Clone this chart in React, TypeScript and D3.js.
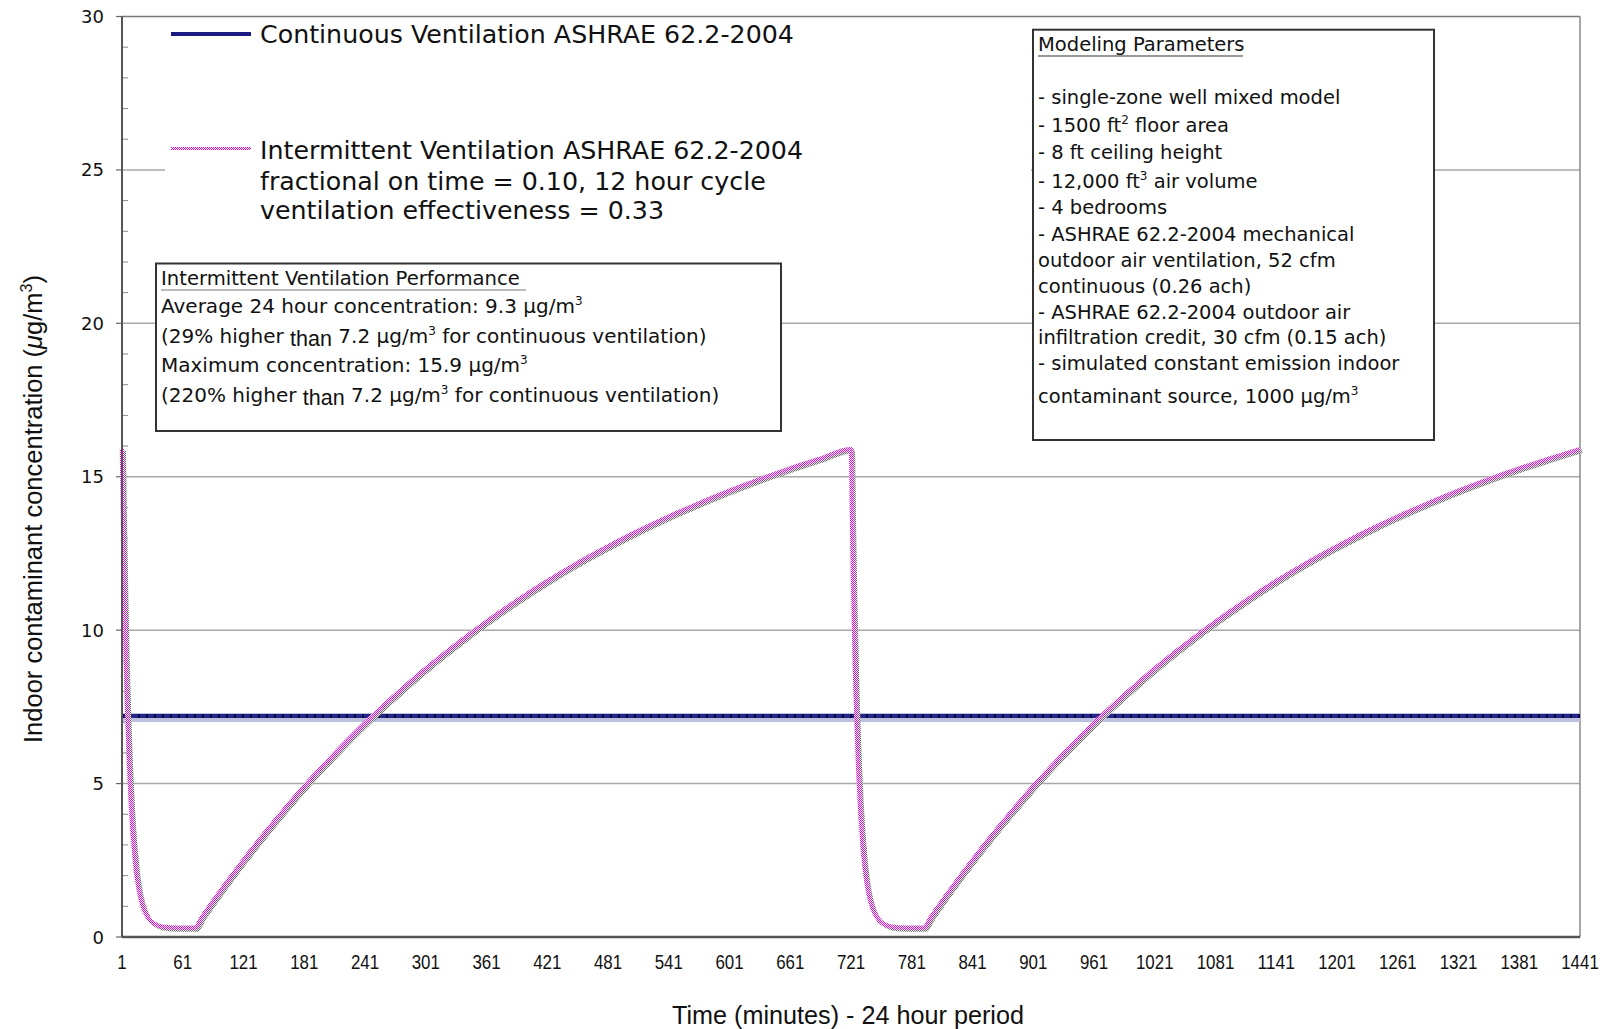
import React from "react";
import * as d3 from "d3";

// ---------- DATA ----------
const yTickValues = [0, 5, 10, 15, 20, 25, 30];
const xTickLabels = [1, 61, 121, 181, 241, 301, 361, 421, 481, 541, 601, 661, 721, 781, 841, 901, 961, 1021, 1081, 1141, 1201, 1261, 1321, 1381, 1441];

const continuousMinutes = [1, 1441];
const continuousValues = [7.2, 7.2];

const intermittentMinutes = [
  1, 2, 3, 4, 5, 6, 8, 10, 12, 15, 18, 22, 26, 30, 35, 40, 50, 60, 73,
  80, 90, 100, 120, 140, 160, 180, 200, 220, 240, 260, 280, 300, 330, 360, 390, 420, 450, 480, 510, 540, 570, 600, 630, 660, 690, 720,
  721, 722, 723, 724, 725, 726, 728, 730, 732, 735, 738, 742, 746, 750, 755, 760, 770, 780, 793,
  800, 810, 820, 840, 860, 880, 900, 920, 940, 960, 980, 1000, 1020, 1050, 1080, 1110, 1140, 1170, 1200, 1230, 1260, 1290, 1320, 1350, 1380, 1410, 1441,
];
const intermittentValues = [
  15.9, 13.67, 11.75, 10.12, 8.71, 7.52, 5.61, 4.21, 3.18, 2.12, 1.46, 0.95, 0.67, 0.5, 0.4, 0.34, 0.31, 0.3, 0.3,
  0.65, 1.12, 1.58, 2.46, 3.3, 4.1, 4.87, 5.59, 6.28, 6.94, 7.56, 8.15, 8.72, 9.51, 10.25, 10.94, 11.58, 12.17, 12.71, 13.22, 13.69, 14.12, 14.53, 14.91, 15.26, 15.58, 15.9,
  15.9, 13.67, 11.75, 10.12, 8.71, 7.52, 5.61, 4.21, 3.18, 2.12, 1.46, 0.95, 0.67, 0.5, 0.4, 0.34, 0.31, 0.3, 0.3,
  0.65, 1.12, 1.58, 2.46, 3.3, 4.1, 4.87, 5.59, 6.28, 6.94, 7.56, 8.15, 8.72, 9.51, 10.25, 10.94, 11.58, 12.17, 12.71, 13.22, 13.69, 14.12, 14.53, 14.91, 15.26, 15.58, 15.9,
];

const seriesNames = ["Continuous Ventilation ASHRAE 62.2-2004", "Intermittent Ventilation ASHRAE 62.2-2004"];
const intermittentNotes = ["fractional on time = 0.10, 12 hour cycle", "ventilation effectiveness = 0.33"];

const xAxisTitle = "Time (minutes) - 24 hour period";
const yAxisTitle = "Indoor contaminant concentration (";

// ---------- LAYOUT ----------
const W = 1608;
const H = 1029;
const PL = 122, PR = 1580, PT = 16.5, PB = 937;

export default function App() {
  const x = d3.scaleLinear().domain([1, 1441]).range([PL, PR]);
  const y = d3.scaleLinear().domain([0, 30]).range([PB, PT]);

  const line = d3
    .line<number>()
    .x((_, i) => x(intermittentMinutes[i]))
    .y((d) => y(d))
    .curve(d3.curveMonotoneX);
  const interPath = line(intermittentValues) || "";

  const contLine = d3
    .line<number>()
    .x((_, i) => x(continuousMinutes[i]))
    .y((d) => y(d));
  const contPath = contLine(continuousValues) || "";

  const minorTicks = d3.range(0, 31, 1).filter((v) => v % 5 !== 0);
  const gridVals = yTickValues.filter((v) => v > 0 && v < 30);

  const verdana = "'DejaVu Sans', Verdana, sans-serif";
  const helv = "'Liberation Sans', Arial, Helvetica, sans-serif";
  const narrow = "'Liberation Sans Narrow', 'Liberation Sans', Arial, sans-serif";

  return (
    <svg
      width={W}
      height={H}
      viewBox={`0 0 ${W} ${H}`}
      style={{ position: "absolute", left: 0, top: 0, display: "block", background: "#fff" }}
    >
      <defs>
        <pattern id="pinkChk" width="2" height="2" patternUnits="userSpaceOnUse">
          <rect width="2" height="2" fill="#ffffff" />
          <rect x="0" y="0" width="1" height="1" fill="#f000f0" />
          <rect x="1" y="1" width="1" height="1" fill="#f000f0" />
        </pattern>
        <pattern id="grayChk" width="2" height="2" patternUnits="userSpaceOnUse">
          <rect width="2" height="2" fill="#e8e8e8" />
          <rect x="0" y="0" width="1" height="1" fill="#6a6a6a" />
          <rect x="1" y="1" width="1" height="1" fill="#6a6a6a" />
        </pattern>
      </defs>
      <rect x={0} y={0} width={W} height={H} fill="#fff" />

      {/* gridlines */}
      {gridVals.map((v) => (
        <line key={"g" + v} x1={PL} x2={PR} y1={y(v)} y2={y(v)} stroke="#a8a8a8" strokeWidth={1.5} />
      ))}

      {/* frame top/right */}
      <line x1={PL} x2={PR} y1={PT} y2={PT} stroke="#777" strokeWidth={1.5} />
      <line x1={PR} x2={PR} y1={PT} y2={PB} stroke="#888" strokeWidth={1.5} />

      {/* minor y ticks */}
      {minorTicks.map((v) => (
        <line key={"m" + v} x1={PL} x2={PL + 6} y1={y(v)} y2={y(v)} stroke="#888" strokeWidth={1} />
      ))}
      {/* major y ticks */}
      {yTickValues.map((v) => (
        <line key={"t" + v} x1={PL - 6} x2={PL} y1={y(v)} y2={y(v)} stroke="#666" strokeWidth={1.2} />
      ))}

      {/* y tick labels */}
      {yTickValues.map((v) => (
        <text key={"yl" + v} x={104} y={y(v) + 6.5} textAnchor="end" fontFamily={verdana} fontSize={18} fill="#111">
          {v}
        </text>
      ))}

      {/* x tick labels */}
      {xTickLabels.map((v) => (
        <text
          key={"xl" + v}
          x={x(v)}
          y={969}
          textAnchor="middle"
          fontFamily={narrow}
          fontSize={20}
          fill="#111"
          textLength={String(v).length * 9.4}
          lengthAdjust="spacingAndGlyphs"
        >
          {v}
        </text>
      ))}

      {/* axis titles */}
      <text
        x={848}
        y={1024}
        textAnchor="middle"
        fontFamily={narrow}
        fontSize={25}
        fill="#111"
        textLength={352}
        lengthAdjust="spacingAndGlyphs"
      >
        {xAxisTitle}
      </text>
      <text
        transform={`translate(42,509) rotate(-90)`}
        textAnchor="middle"
        fontFamily={helv}
        fontSize={25.5}
        fill="#111"
      >
        {yAxisTitle}
        <tspan fontStyle="italic">μ</tspan>g/m
        <tspan dy={-10} fontSize={16}>3</tspan>
        <tspan dy={10}>)</tspan>
      </text>

      {/* continuous series */}
      <path d={contPath} transform="translate(0,1.5)" fill="none" stroke="#bcc0de" strokeWidth={9} />
      <path d={contPath} fill="none" stroke="#262688" strokeWidth={4} />
      <path d={contPath} fill="none" stroke="#0a0a48" strokeWidth={4} strokeDasharray="2 6" />

      {/* intermittent series */}
      <path d={interPath} transform="translate(2,2)" fill="none" stroke="url(#grayChk)" strokeWidth={4} strokeLinejoin="round" />
      <path d={interPath} fill="none" stroke="url(#pinkChk)" strokeWidth={4.5} strokeLinejoin="round" />

      {/* axes */}
      <line x1={PL} x2={PL} y1={PT} y2={PB} stroke="#555" strokeWidth={2} />
      <line x1={PL} x2={PR} y1={PB} y2={PB} stroke="#555" strokeWidth={2.5} />

      {/* legend */}
      <rect x={165} y={18} width={866} height={206} fill="#fff" />
      <line x1={171} x2={251} y1={34} y2={34} stroke="#1a1a80" strokeWidth={4} />
      <text x={260} y={43} fontFamily={verdana} fontSize={25.3} fill="#111">
        {seriesNames[0]}
      </text>
      <line x1={171} x2={251} y1={148.5} y2={148.5} stroke="url(#pinkChk)" strokeWidth={3} />
      <text x={260} y={159} fontFamily={verdana} fontSize={25.3} fill="#111">
        {seriesNames[1]}
      </text>
      {intermittentNotes.map((t, i) => (
        <text key={"n" + i} x={260} y={189.5 + i * 29.5} fontFamily={verdana} fontSize={25.3} fill="#111">
          {t}
        </text>
      ))}

      {/* performance box */}
      <rect x={156} y={263.5} width={625} height={167.5} fill="#fff" stroke="#333" strokeWidth={2} />
      <g fontFamily={verdana} fontSize={20} fill="#111">
        <text x={161} y={285} fontSize={19.6}>Intermittent Ventilation Performance</text>
        <line x1={161} x2={526} y1={290} y2={290} stroke="#777" strokeWidth={1.2} />
        <text x={161} y={313}>
          Average 24 hour concentration: 9.3 µg/m
          <tspan dy={-8} fontSize={12}>3</tspan>
        </text>
        <text x={161} y={343}>
          (29% higher <tspan fontFamily={helv} fontSize={21.5} dy={3}>than</tspan>
          <tspan dy={-3}> 7.2 µg/m</tspan>
          <tspan dy={-8} fontSize={12}>3</tspan>
          <tspan dy={8}> for continuous ventilation)</tspan>
        </text>
        <text x={161} y={372}>
          Maximum concentration: 15.9 µg/m
          <tspan dy={-8} fontSize={12}>3</tspan>
        </text>
        <text x={161} y={402}>
          (220% higher <tspan fontFamily={helv} fontSize={21.5} dy={3}>than</tspan>
          <tspan dy={-3}> 7.2 µg/m</tspan>
          <tspan dy={-8} fontSize={12}>3</tspan>
          <tspan dy={8}> for continuous ventilation)</tspan>
        </text>
      </g>

      {/* modeling parameters box */}
      <rect x={1033} y={29.7} width={401} height={410.3} fill="#fff" stroke="#333" strokeWidth={2} />
      <g fontFamily={verdana} fontSize={19.5} fill="#111">
        <text x={1038} y={51}>Modeling Parameters</text>
        <line x1={1038} x2={1243} y1={56} y2={56} stroke="#333" strokeWidth={1.2} />
        <text x={1038} y={103.5}>- single-zone well mixed model</text>
        <text x={1038} y={132}>
          - 1500 ft<tspan dy={-8} fontSize={12}>2</tspan>
          <tspan dy={8}> floor area</tspan>
        </text>
        <text x={1038} y={159}>- 8 ft ceiling height</text>
        <text x={1038} y={187.5}>
          - 12,000 ft<tspan dy={-8} fontSize={12}>3</tspan>
          <tspan dy={8}> air volume</tspan>
        </text>
        <text x={1038} y={214}>- 4 bedrooms</text>
        <text x={1038} y={241}>- ASHRAE 62.2-2004 mechanical</text>
        <text x={1038} y={266.5}>outdoor air ventilation, 52 cfm</text>
        <text x={1038} y={293}>continuous (0.26 ach)</text>
        <text x={1038} y={319}>- ASHRAE 62.2-2004 outdoor air</text>
        <text x={1038} y={344}>infiltration credit, 30 cfm (0.15 ach)</text>
        <text x={1038} y={370}>- simulated constant emission indoor</text>
        <text x={1038} y={403}>
          contaminant source, 1000 µg/m<tspan dy={-8} fontSize={12}>3</tspan>
        </text>
      </g>
    </svg>
  );
}
